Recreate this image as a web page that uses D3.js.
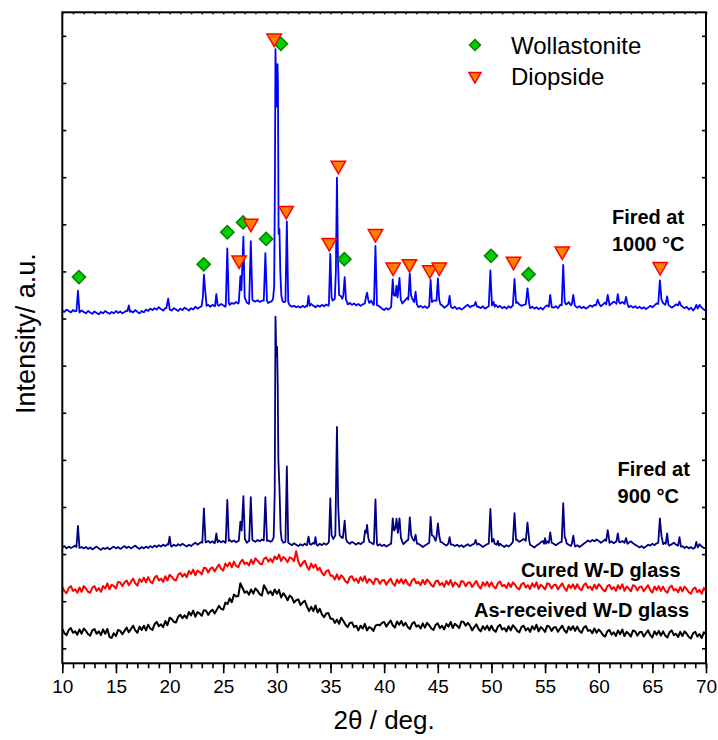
<!DOCTYPE html>
<html>
<head>
<meta charset="utf-8">
<script src="https://cdn.jsdelivr.net/npm/d3@7"></script>
<style>
	body { margin: 0; background: #fff; }
	text { font-family: "Liberation Sans", Arial, sans-serif; }
</style>
</head>
<body>
<div id="chart"></div>
<script>
// scan grid of the measured patterns (2theta, deg.)
var scanStart = 10,
	scanStep = 0.2;

var xTicks = d3.range(10, 71, 5);
var xMinorTicks = d3.range(10, 71, 1);
var yTicks = d3.range(0, 1301, 100);

// background of the 1000 C pattern, one value per scan step
var base1000 = [
	717,714,719,716,713,718,715,716,712,717,
	714,711,716,713,710,715,712,709,714,711,
	716,713,710,714,711,716,712,715,711,714,
	717,722,716,713,718,714,711,716,713,719,
	716,721,718,722,719,724,720,717,722,721,
	720,717,722,719,716,721,718,723,720,717,
	722,719,725,721,724,727,723,726,729,725,
	729,726,730,727,731,728,725,732,729,733,
	731,735,732,736,733,730,734,731,735,738,
	736,739,735,738,734,737,733,736,732,735,
	740,738,742,735,733,730,728,725,727,724,
	726,723,727,724,728,725,731,727,724,728,
	725,729,726,730,727,733,730,736,738,745,
	742,738,734,730,733,729,732,728,731,727,
	730,726,732,735,738,729,733,728,725,721,
	718,722,719,723,735,740,745,742,732,735,
	740,745,742,738,733,728,724,727,723,726,
	722,725,730,735,738,740,735,728,723,726,
	730,728,722,725,720,723,719,722,726,729,
	724,727,731,728,725,722,726,721,724,727,
	731,726,729,724,727,722,725,721,726,723,
	727,731,735,730,727,729,733,726,722,725,
	721,724,720,723,719,725,728,724,727,723,
	726,722,729,733,727,730,735,728,724,727,
	723,726,722,725,721,724,728,725,729,733,
	729,726,730,734,731,728,732,736,733,729,
	732,735,731,727,724,727,723,726,722,725,
	721,724,720,723,727,724,728,732,736,730,
	733,729,733,727,723,726,730,734,729,725,
	722,725,719,723,717,721,726,729,723,719,
	716
];

// reflections of the 1000 C pattern: [2theta, intensity]
var peaks1000 = [
	[[11.32,716],[11.46,759],[11.6,713]],
	[[16.08,716],[16.2,728],[16.32,714]],
	[[19.7,722],[19.87,742],[20.02,719]],
	[[22.98,726],[23.1,745],[23.2,793],[23.32,760],[23.45,727]],
	[[24.24,727],[24.36,752],[24.48,729]],
	[[25.24,729],[25.38,849],[25.52,733]],
	[[26.45,734],[26.6,790],[26.7,760],[26.88,874],[27.0,745],[27.12,738]],
	[[27.42,734],[27.57,864],[27.72,740]],
	[[28.78,738],[28.93,839],[29.08,737]],
	[[29.5,736],[29.65,742],[29.75,770],[29.82,1000],[29.87,1272],[29.93,1180],[29.98,1150],[30.06,1240],[30.1,1200],[30.16,880],[30.24,890],[30.32,800],[30.42,748],[30.52,738]],
	[[30.8,736],[30.93,906],[31.06,735]],
	[[32.83,726],[32.95,748],[33.07,727]],
	[[34.85,730],[34.98,837],[35.1,745],[35.2,738],[35.4,742],[35.5,800],[35.6,999],[35.7,820],[35.8,750],[35.95,748],[36.1,742],[36.2,750],[36.32,788],[36.44,740],[36.55,735]],
	[[38.2,732],[38.3,745],[38.41,755],[38.52,740],[38.62,733]],
	[[39.05,730],[39.19,854],[39.33,728]],
	[[40.65,725],[40.8,783],[40.9,750],[41.05,748],[41.15,770],[41.25,745],[41.43,786],[41.55,740],[41.7,732]],
	[[42.25,740],[42.39,796],[42.5,750],[42.62,742]],
	[[42.8,735],[42.93,757],[43.05,730]],
	[[44.2,726],[44.33,782],[44.45,735],[44.6,738]],
	[[44.88,738],[45.01,785],[45.13,740],[45.25,730]],
	[[45.98,730],[46.1,748],[46.22,725]],
	[[48.4,728],[48.53,735],[48.66,725]],
	[[49.75,726],[49.9,802],[50.05,728],[50.2,735],[50.3,725]],
	[[52.0,728],[52.15,784],[52.3,733]],
	[[53.2,730],[53.36,764],[53.52,731]],
	[[55.35,725],[55.48,750],[55.62,724]],
	[[56.55,728],[56.69,814],[56.83,735],[56.95,730]],
	[[57.5,731],[57.63,750],[57.77,728]],
	[[59.75,728],[59.9,740],[60.05,731]],
	[[60.7,730],[60.84,750],[60.98,733]],
	[[61.65,731],[61.78,752],[61.9,735]],
	[[62.42,733],[62.55,746],[62.68,731]],
	[[65.55,731],[65.7,781],[65.85,740],[65.95,735]],
	[[66.25,733],[66.38,747],[66.5,729]],
	[[67.4,728],[67.53,736],[67.66,728]],
	[[68.97,722],[69.1,729],[69.23,721]]
];

var base900 = [
	214,217,212,216,213,215,218,214,211,215,
	212,215,211,214,210,213,216,212,209,213,
	211,214,210,213,216,212,215,211,214,217,
	213,216,212,215,218,214,211,215,212,216,
	213,217,214,218,215,219,216,220,217,221,
	218,216,220,217,221,218,222,219,216,220,
	217,221,224,220,223,226,222,225,228,224,
	227,223,226,229,225,228,224,227,230,226,
	229,225,228,226,230,227,224,228,225,229,
	226,230,227,231,228,225,229,226,230,227,
	229,226,230,224,221,225,222,219,223,220,
	217,221,218,222,219,223,220,224,221,218,
	222,219,223,220,224,226,223,227,229,231,
	228,224,221,225,222,226,223,220,224,221,
	225,222,226,228,224,221,225,218,221,217,
	220,216,219,222,226,230,228,232,225,221,
	226,230,228,232,229,226,222,219,215,218,
	221,217,220,224,228,226,230,225,221,218,
	222,225,220,217,220,216,219,215,218,221,
	217,220,223,226,222,219,215,218,221,224,
	228,224,221,225,222,218,215,219,216,220,
	223,227,230,226,229,232,228,224,220,217,
	214,218,221,225,228,224,227,230,226,222,
	219,222,225,229,226,223,220,217,213,216,
	219,215,218,222,225,229,226,230,227,231,
	228,224,227,231,228,224,227,223,226,222,
	225,228,224,221,224,227,223,220,217,214,
	217,213,216,220,218,222,219,223,226,224,
	221,225,222,218,221,224,220,217,214,217,
	213,216,212,215,211,214,218,221,216,213,
	212
];

var peaks900 = [
	[[11.32,215],[11.46,260],[11.6,213]],
	[[19.88,220],[20.0,237],[20.12,218]],
	[[23.05,224],[23.2,297],[23.35,225]],
	[[24.24,226],[24.36,244],[24.48,225]],
	[[25.24,227],[25.38,315],[25.52,228]],
	[[26.45,228],[26.6,269],[26.72,250],[26.88,323],[27.02,232],[27.12,228]],
	[[27.42,228],[27.57,321],[27.72,230]],
	[[28.78,229],[28.93,321],[29.08,228]],
	[[29.55,228],[29.7,235],[29.8,330],[29.87,704],[29.95,620],[30.02,640],[30.08,560],[30.14,400],[30.24,342],[30.35,250],[30.45,230],[30.55,226]],
	[[30.8,226],[30.93,386],[31.06,224]],
	[[32.83,222],[32.95,237],[33.07,221]],
	[[33.5,222],[33.6,236],[33.7,220]],
	[[34.85,226],[34.98,318],[35.1,240],[35.25,232],[35.45,240],[35.6,470],[35.72,300],[35.85,240],[36.0,236],[36.15,234],[36.32,271],[36.45,232],[36.55,226]],
	[[38.1,226],[38.22,250],[38.3,245],[38.41,262],[38.52,235],[38.62,226]],
	[[39.05,224],[39.19,316],[39.33,222]],
	[[40.65,222],[40.8,276],[40.92,250],[41.05,255],[41.15,275],[41.28,245],[41.43,276],[41.56,235],[41.7,226]],
	[[42.25,230],[42.39,278],[42.52,240],[42.65,232]],
	[[42.8,228],[42.93,241],[43.06,222]],
	[[44.2,224],[44.33,279],[44.45,240],[44.6,238]],
	[[44.88,236],[45.01,265],[45.13,240],[45.25,226]],
	[[45.98,222],[46.1,236],[46.22,220]],
	[[48.4,222],[48.53,230],[48.66,220]],
	[[49.75,222],[49.9,296],[50.05,226],[50.2,232],[50.3,222]],
	[[50.5,220],[50.6,228],[50.7,218]],
	[[52.0,226],[52.15,287],[52.3,230]],
	[[53.2,228],[53.36,267],[53.52,229]],
	[[54.9,222],[55.0,234],[55.1,222]],
	[[55.35,224],[55.48,246],[55.62,224]],
	[[56.55,226],[56.69,308],[56.83,236],[56.95,230]],
	[[57.5,222],[57.63,239],[57.77,218]],
	[[60.7,228],[60.84,251],[60.98,230]],
	[[61.65,227],[61.78,244],[61.9,226]],
	[[62.42,225],[62.55,234],[62.68,222]],
	[[65.55,224],[65.7,276],[65.85,238],[65.95,228]],
	[[66.25,222],[66.38,244],[66.5,220]],
	[[67.4,218],[67.53,236],[67.66,216]],
	[[68.97,214],[69.1,226],[69.23,214]]
];

var baseCured = [
	130,121,117,128,132,122,125,118,129,120,
	132,127,120,118,129,132,122,128,120,132,
	127,138,125,135,132,127,141,140,132,140,
	144,134,141,148,138,133,147,141,150,140,
	151,142,138,150,154,144,148,141,153,144,
	156,152,146,144,156,160,152,158,151,164,
	158,167,155,165,162,157,171,170,161,169,
	172,163,171,178,169,165,180,174,182,172,
	184,175,172,183,188,179,182,176,188,179,
	191,186,180,178,190,193,184,190,183,195,
	189,199,185,194,190,183,193,191,185,206,
	184,174,181,186,174,167,180,171,178,166,
	171,160,155,164,166,154,154,146,157,146,
	155,150,142,139,151,153,143,148,139,151,
	143,153,139,147,143,136,148,146,137,144,
	145,135,142,148,138,133,146,139,147,137,
	146,137,133,144,148,138,141,134,145,136,
	146,141,134,131,142,144,134,139,131,143,
	135,145,131,140,136,130,143,141,132,139,
	140,130,137,143,132,127,140,133,141,131,
	140,131,127,138,142,132,135,128,139,130,
	140,135,128,125,136,139,129,134,126,138,
	130,140,126,135,131,125,138,136,127,134,
	135,125,132,138,128,122,135,128,136,126,
	136,127,123,134,138,128,131,124,135,126,
	136,131,124,121,132,135,125,130,122,134,
	126,136,122,131,127,121,134,132,123,130,
	131,121,128,134,124,118,131,124,132,122,
	131,122,118,129,133,123,126,119,130,121,
	131,126,119,116,126,129,119,124,116,128,
	121
];

var baseAsReceived = [
	41,32,28,39,43,33,36,29,40,31,
	42,37,30,27,38,41,31,36,28,40,
	31,41,24,22,32,26,39,37,30,37,
	44,34,41,48,38,33,46,39,48,38,
	50,42,39,51,56,47,51,45,58,49,
	65,62,56,55,67,71,64,70,64,77,
	70,80,67,77,74,69,81,80,71,78,
	82,74,82,90,84,82,97,94,106,98,
	114,110,111,138,128,118,121,114,125,116,
	127,122,115,112,134,126,116,121,113,125,
	116,124,108,117,111,102,112,108,97,102,
	104,92,97,101,89,79,88,79,91,76,
	84,72,66,74,75,63,63,54,61,52,
	65,58,50,45,54,55,45,48,38,48,
	42,52,38,45,43,37,48,50,49,54,
	56,46,53,59,49,44,57,50,58,48,
	54,45,41,52,56,46,49,42,53,44,
	54,49,42,39,50,53,43,48,40,52,
	46,56,43,52,48,43,57,56,48,54,
	48,38,45,51,41,36,47,40,48,38,
	48,39,35,46,50,40,43,36,47,38,
	49,44,37,34,45,48,38,43,35,47,
	40,50,36,45,41,35,48,46,37,44,
	45,35,42,48,38,33,46,39,47,37,
	46,37,33,44,47,37,39,32,42,33,
	40,35,28,25,36,39,29,34,26,38,
	30,40,26,35,31,25,38,36,27,34,
	35,25,32,38,28,23,36,29,37,27,
	36,27,23,34,38,28,31,24,35,26,
	36,31,24,21,32,35,25,30,22,34,
	30
];

// phase markers [2theta, intensity]
var wollastoniteMarks = [[11.55,788],[23.18,815],[25.38,883],[26.85,904],[29.0,869],[30.37,1283],[36.29,826],[49.96,833],[53.46,794]];
var diopsideMarks = [[26.48,824],[27.57,902],[29.75,1295],[30.87,929],[34.89,861],[35.73,1025],[39.19,880],[40.84,809],[42.36,816],[44.26,803],[45.14,809],[52.06,821],[56.6,843],[65.73,810]];

var seriesNames = ["As-received W-D glass", "Cured W-D glass", "Fired at 900 °C", "Fired at 1000 °C"];
var seriesColors = ["#000000", "#ff0000", "#000080", "#0000ff"];
var seriesWidths = [2, 2, 1.8, 1.8];

// sample labels: [lines, 2theta, intensity]
var sampleLabels = [
	[["Fired at", "1000 °C"], 61.23, 901],
	[["Fired at", "900 °C"], 61.76, 366],
	[["Cured W-D glass"], 52.75, 151],
	[["As-received W-D glass"], 48.37, 66]
];

function buildPattern(base, peaks) {
	var pts = base.map((v, i) => [+(scanStart + i * scanStep).toFixed(2), v]);
	var ranges = peaks.map(c => [c[0][0], c[c.length - 1][0]]);
	pts = pts.filter(p => !ranges.some(r => p[0] >= r[0] && p[0] <= r[1]));
	peaks.forEach(c => { pts = pts.concat(c); });
	return pts.sort((a, b) => a[0] - b[0]);
}

var patterns = [
	buildPattern(baseAsReceived, []),
	buildPattern(baseCured, []),
	buildPattern(base900, peaks900),
	buildPattern(base1000, peaks1000)
];

var margin = { top: 12.3, right: 12, bottom: 76.7, left: 62.3 },
	width = 718 - margin.left - margin.right,
	height = 740 - margin.top - margin.bottom;

var svg = d3.select("#chart").append("svg")
	.attr("width", 718)
	.attr("height", 740)
	.append("g")
	.attr("transform", `translate(${margin.left},${margin.top})`);

var x = d3.scaleLinear().domain([10, 70]).range([0, width]);
var y = d3.scaleLinear().domain([-31.8, 1350]).range([height, 0]);

svg.append("clipPath").attr("id", "clip")
	.append("rect").attr("width", width).attr("height", height);

var line = d3.line()
	.x(d => x(d[0]))
	.y(d => y(d[1]));

svg.append("g")
	.attr("clip-path", "url(#clip)")
	.selectAll("path")
	.data(patterns)
	.enter()
	.append("path")
	.attr("d", line)
	.attr("fill", "none")
	.attr("stroke", (d, i) => seriesColors[i])
	.attr("stroke-width", (d, i) => seriesWidths[i])
	.attr("stroke-linejoin", "round");

// axes
var xAxis = d3.axisBottom(x).tickValues(xTicks).tickSize(10).tickSizeOuter(0).tickPadding(6);
var xMinor = d3.axisBottom(x).tickValues(xMinorTicks).tickSize(5).tickFormat("").tickSizeOuter(0);

svg.append("g").attr("transform", `translate(0,${height})`).call(xMinor);
var gx = svg.append("g").attr("transform", `translate(0,${height})`).call(xAxis);
gx.selectAll("text").style("font-size", "19px").attr("fill", "#000");

svg.append("g").call(d3.axisTop(x).tickValues(xMinorTicks).tickSize(-2).tickFormat("").tickSizeOuter(0));
svg.append("g").call(d3.axisLeft(y).tickValues(yTicks).tickSize(-4).tickFormat("").tickSizeOuter(0));
svg.append("g").attr("transform", `translate(${width},0)`)
	.call(d3.axisRight(y).tickValues(yTicks).tickSize(-4).tickFormat("").tickSizeOuter(0));

svg.selectAll(".domain").remove();
svg.selectAll(".tick line").attr("stroke", "#000").attr("stroke-width", 1.6);

svg.append("rect")
	.attr("width", width)
	.attr("height", height)
	.attr("fill", "none")
	.attr("stroke", "#000")
	.attr("stroke-width", 2);

svg.append("text")
	.attr("x", width / 2)
	.attr("y", height + 66)
	.attr("text-anchor", "middle")
	.style("font-size", "26px")
	.text("2θ / deg.");

svg.append("text")
	.attr("transform", `translate(${-27},${y(668)}) rotate(-90)`)
	.attr("text-anchor", "middle")
	.style("font-size", "27px")
	.text("Intensity/ a.u.");

// phase markers
var diamond = d3.symbol().type(d3.symbolSquare).size(88);
var triangle = d3.symbol().type(d3.symbolTriangle).size(90);

svg.selectAll(".wol")
	.data(wollastoniteMarks)
	.enter()
	.append("path")
	.attr("class", "wol")
	.attr("d", diamond)
	.attr("transform", d => `translate(${x(d[0])},${y(d[1])}) rotate(45)`)
	.attr("fill", "#00cc00")
	.attr("stroke", "#008000")
	.attr("stroke-width", 1.5);

svg.selectAll(".dio")
	.data(diopsideMarks)
	.enter()
	.append("path")
	.attr("class", "dio")
	.attr("d", triangle)
	.attr("transform", d => `translate(${x(d[0])},${y(d[1])}) rotate(180)`)
	.attr("fill", "#ff8000")
	.attr("stroke", "#ff0000")
	.attr("stroke-width", 1.5);

// legend
var legend = svg.append("g").attr("transform", `translate(${475 - margin.left},${45 - margin.top})`);
legend.append("path")
	.attr("d", d3.symbol().type(d3.symbolSquare).size(60))
	.attr("transform", "rotate(45)")
	.attr("fill", "#00cc00").attr("stroke", "#008000").attr("stroke-width", 1.5);
legend.append("path")
	.attr("d", d3.symbol().type(d3.symbolTriangle).size(64))
	.attr("transform", "translate(0,31) rotate(180)")
	.attr("fill", "#ff8000").attr("stroke", "#ff0000").attr("stroke-width", 1.5);
legend.append("text").attr("x", 36).attr("y", 8.5).style("font-size", "24px").text("Wollastonite");
legend.append("text").attr("x", 36).attr("y", 39.5).style("font-size", "24px").text("Diopside");

// sample labels
sampleLabels.forEach(l => {
	var t = svg.append("text")
		.attr("x", x(l[1]))
		.attr("y", y(l[2]))
		.style("font-size", "20px")
		.style("font-weight", "bold");
	l[0].forEach((s, i) => {
		t.append("tspan").attr("x", x(l[1])).attr("dy", i ? 26.7 : 0).text(s);
	});
});
</script>
</body>
</html>
